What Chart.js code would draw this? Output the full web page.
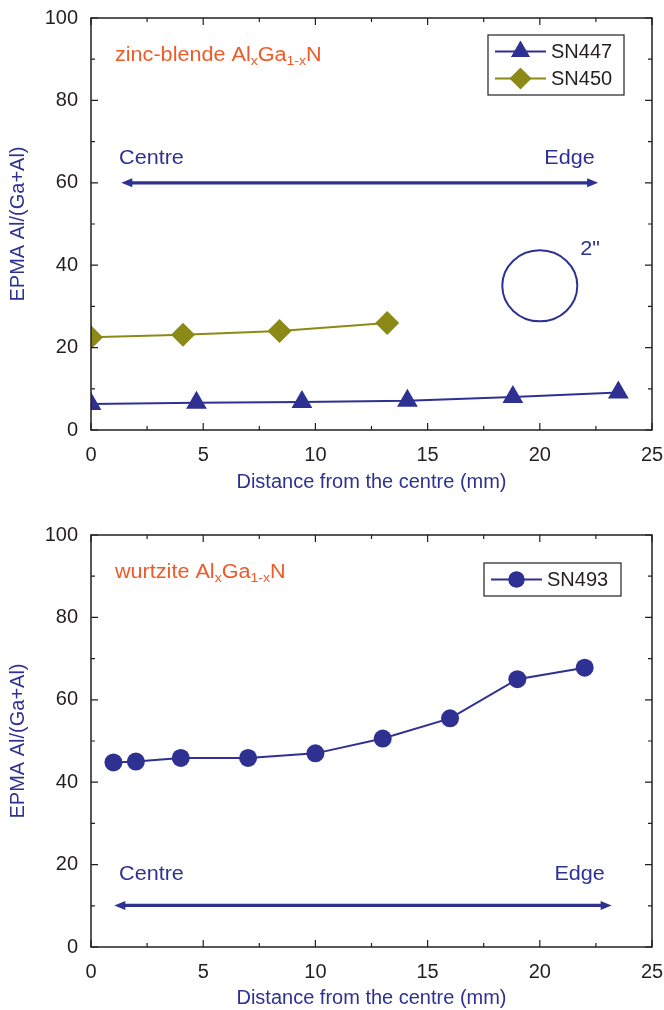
<!DOCTYPE html>
<html>
<head>
<title>EPMA Al/(Ga+Al) vs distance</title>
<script src="https://cdn.jsdelivr.net/npm/chart.js"></script>
<style>
  body { margin: 0; background: #fff; }
  .panel { position: absolute; left: 0; width: 664px; }
</style>
</head>
<body>
<div class="panel" style="top:0;height:500px"><canvas id="zbChart"></canvas></div>
<div class="panel" style="top:500px;height:510px"><canvas id="wzChart"></canvas></div>
<script>
// data
const sn447X = [0, 4.7, 9.4, 14.1, 18.8, 23.5];
const sn447Y = [6.3, 6.6, 6.8, 7.1, 8.0, 9.1];
const sn450X = [0, 4.1, 8.4, 13.2];
const sn450Y = [22.5, 23.1, 24.0, 26.0];
const sn493X = [1, 2, 4, 7, 10, 13, 16, 19, 22];
const sn493Y = [44.8, 45.0, 45.9, 45.9, 47.0, 50.6, 55.5, 65.0, 67.8];
const xTicks = [0, 5, 10, 15, 20, 25];
const yTicks = [0, 20, 40, 60, 80, 100];

const BLUE = '#2e3192';
const OLIVE = '#8c8a17';
const ORANGE = '#f05a28';
const INK = '#231f20';
const FONT = '"Liberation Sans", Arial, sans-serif';

function pts(xs, ys) { return xs.map((x, i) => ({x: x, y: ys[i]})); }

// no automatic room for overhanging tick labels, layout padding decides
function noOverhang(s) {
  s.paddingLeft = 0; s.paddingRight = 0; s.paddingTop = 0; s.paddingBottom = 0;
}

// frame with inward ticks on all four sides
const framePlugin = {
  id: 'frame',
  afterDraw(chart) {
    const {ctx, chartArea: a, scales: {x, y}} = chart;
    ctx.save();
    ctx.strokeStyle = INK;
    ctx.lineWidth = 1.5;
    ctx.strokeRect(a.left, a.top, a.right - a.left, a.bottom - a.top);
    ctx.lineWidth = 1.2;
    ctx.beginPath();
    for (let v = 0; v <= 25; v += 2.5) {
      const px = x.getPixelForValue(v);
      const len = v % 5 === 0 ? 7 : 4;
      ctx.moveTo(px, a.bottom); ctx.lineTo(px, a.bottom - len);
      ctx.moveTo(px, a.top); ctx.lineTo(px, a.top + len);
    }
    for (let v = 0; v <= 100; v += 10) {
      const py = y.getPixelForValue(v);
      const len = v % 20 === 0 ? 7 : 4;
      ctx.moveTo(a.left, py); ctx.lineTo(a.left + len, py);
      ctx.moveTo(a.right, py); ctx.lineTo(a.right - len, py);
    }
    ctx.stroke();
    ctx.restore();
  }
};

// texts, arrows, wafer circle
const notesPlugin = {
  id: 'notes',
  afterDatasetsDraw(chart, args, opts) {
    const {ctx, scales: {x, y}} = chart;
    const stretch = 1.08; // the figure's lettering is a bit wider than Arial
    ctx.save();
    (opts.arrows || []).forEach(ar => {
      const x1 = x.getPixelForValue(ar.x1), x2 = x.getPixelForValue(ar.x2), py = y.getPixelForValue(ar.y);
      ctx.strokeStyle = BLUE; ctx.fillStyle = BLUE; ctx.lineWidth = 3.2;
      ctx.beginPath(); ctx.moveTo(x1 + 6, py); ctx.lineTo(x2 - 6, py); ctx.stroke();
      ctx.beginPath(); ctx.moveTo(x1, py); ctx.lineTo(x1 + 11, py - 4.5); ctx.lineTo(x1 + 11, py + 4.5); ctx.closePath(); ctx.fill();
      ctx.beginPath(); ctx.moveTo(x2, py); ctx.lineTo(x2 - 11, py - 4.5); ctx.lineTo(x2 - 11, py + 4.5); ctx.closePath(); ctx.fill();
    });
    (opts.rings || []).forEach(r => {
      ctx.strokeStyle = BLUE; ctx.lineWidth = 2;
      ctx.beginPath();
      ctx.ellipse(x.getPixelForValue(r.x), y.getPixelForValue(r.y), r.rx, r.ry, 0, 0, Math.PI * 2);
      ctx.stroke();
    });
    (opts.texts || []).forEach(t => {
      const size = t.size || 20;
      ctx.fillStyle = t.color;
      ctx.textBaseline = 'middle';
      ctx.textAlign = 'left';
      let w = 0;
      t.parts.forEach(p => {
        ctx.font = (p[1] ? size * 0.65 : size) + 'px ' + FONT;
        w += ctx.measureText(p[0]).width;
      });
      let px = x.getPixelForValue(t.x);
      if (t.align === 'right') px -= w * stretch;
      const py = y.getPixelForValue(t.y);
      ctx.save();
      ctx.translate(px, py);
      ctx.scale(stretch, 1);
      let cx = 0;
      t.parts.forEach(p => {
        ctx.font = (p[1] ? size * 0.65 : size) + 'px ' + FONT;
        ctx.fillText(p[0], cx, p[1] ? 6 : 0);
        cx += ctx.measureText(p[0]).width;
      });
      ctx.restore();
    });
    ctx.restore();
  }
};

// boxed legend in the top right corner
const keyPlugin = {
  id: 'keyBox',
  afterDraw(chart, args, opts) {
    const {ctx, chartArea: a} = chart;
    const sets = chart.data.datasets;
    const right = a.right - opts.right, top = a.top + opts.top;
    const left = right - opts.width;
    const h = 16.5 * 2 + 27 * (sets.length - 1);
    ctx.save();
    ctx.strokeStyle = INK; ctx.lineWidth = 1.2;
    ctx.strokeRect(left, top, opts.width, h);
    sets.forEach((ds, i) => {
      const cy = top + 16.5 + 27 * i;
      ctx.strokeStyle = ds.borderColor; ctx.lineWidth = 2;
      ctx.beginPath(); ctx.moveTo(left + 7, cy); ctx.lineTo(left + 58, cy); ctx.stroke();
      ctx.fillStyle = ds.backgroundColor;
      Chart.helpers.drawPoint(ctx, {pointStyle: ds.pointStyle, radius: ds.pointRadius * 0.9, borderWidth: 0, rotation: 0}, left + 32.5, cy);
      ctx.fill();
      ctx.fillStyle = INK;
      ctx.font = '20px ' + FONT;
      ctx.textBaseline = 'middle';
      ctx.textAlign = 'left';
      ctx.fillText(ds.label, left + 63, cy + 1);
    });
    ctx.restore();
  }
};

function makeOptions(padTop, xHeight, titlePad, notes, key) {
  return {
    responsive: true,
    maintainAspectRatio: false,
    animation: false,
    layout: {padding: {top: padTop, right: 12, left: 0, bottom: 0}},
    scales: {
      x: {
        type: 'linear', min: 0, max: 25,
        afterFit: s => { s.height = xHeight; noOverhang(s); },
        afterBuildTicks: s => { s.ticks = xTicks.map(v => ({value: v})); },
        grid: {display: false, drawTicks: false},
        border: {display: false},
        ticks: {color: INK, font: {family: FONT, size: 20}, padding: 13, maxRotation: 0},
        title: {display: true, text: 'Distance from the centre (mm)', color: BLUE,
                font: {family: FONT, size: 20}, padding: {top: 0, bottom: titlePad}}
      },
      y: {
        type: 'linear', min: 0, max: 100,
        afterFit: s => { s.width = 91; noOverhang(s); },
        afterBuildTicks: s => { s.ticks = yTicks.map(v => ({value: v})); },
        grid: {display: false, drawTicks: false},
        border: {display: false},
        ticks: {color: INK, font: {family: FONT, size: 20}, padding: 13},
        title: {display: true, text: 'EPMA Al/(Ga+Al)', color: BLUE,
                font: {family: FONT, size: 20}, padding: {top: 6, bottom: 0}}
      }
    },
    plugins: {
      legend: {display: false},
      tooltip: {enabled: false},
      notes: notes,
      keyBox: key
    }
  };
}

new Chart(document.getElementById('zbChart'), {
  type: 'scatter',
  data: {
    datasets: [
      {label: 'SN447', data: pts(sn447X, sn447Y), showLine: true, borderColor: BLUE, backgroundColor: BLUE,
       borderWidth: 2, pointStyle: 'triangle', pointRadius: 12, pointBorderWidth: 0},
      {label: 'SN450', data: pts(sn450X, sn450Y), showLine: true, borderColor: OLIVE, backgroundColor: OLIVE,
       borderWidth: 2, pointStyle: 'rectRot', pointRadius: 12, pointBorderWidth: 0}
    ]
  },
  options: makeOptions(18, 70, 6, {
    texts: [
      {x: 1.07, y: 90.8, color: ORANGE, parts: [['zinc-blende Al', 0], ['x', 1], ['Ga', 0], ['1-x', 1], ['N', 0]]},
      {x: 1.25, y: 66, color: BLUE, parts: [['Centre', 0]]},
      {x: 22.45, y: 66, color: BLUE, align: 'right', parts: [['Edge', 0]]},
      {x: 21.8, y: 43.7, color: BLUE, parts: [['2"', 0]]}
    ],
    arrows: [{x1: 1.35, x2: 22.6, y: 60}],
    rings: [{x: 20, y: 35, rx: 37.5, ry: 35.5}]
  }, {right: 28, top: 17, width: 136}),
  plugins: [framePlugin, notesPlugin, keyPlugin]
});

new Chart(document.getElementById('wzChart'), {
  type: 'scatter',
  data: {
    datasets: [
      {label: 'SN493', data: pts(sn493X, sn493Y), showLine: true, borderColor: BLUE, backgroundColor: BLUE,
       borderWidth: 2, pointStyle: 'circle', pointRadius: 9, pointBorderWidth: 0}
    ]
  },
  options: makeOptions(35, 63, 0, {
    texts: [
      {x: 1.07, y: 90.8, color: ORANGE, parts: [['wurtzite Al', 0], ['x', 1], ['Ga', 0], ['1-x', 1], ['N', 0]]},
      {x: 1.25, y: 17.7, color: BLUE, parts: [['Centre', 0]]},
      {x: 22.9, y: 17.7, color: BLUE, align: 'right', parts: [['Edge', 0]]}
    ],
    arrows: [{x1: 1.04, x2: 23.2, y: 10.1}]
  }, {right: 31, top: 28, width: 137}),
  plugins: [framePlugin, notesPlugin, keyPlugin]
});
</script>
</body>
</html>
